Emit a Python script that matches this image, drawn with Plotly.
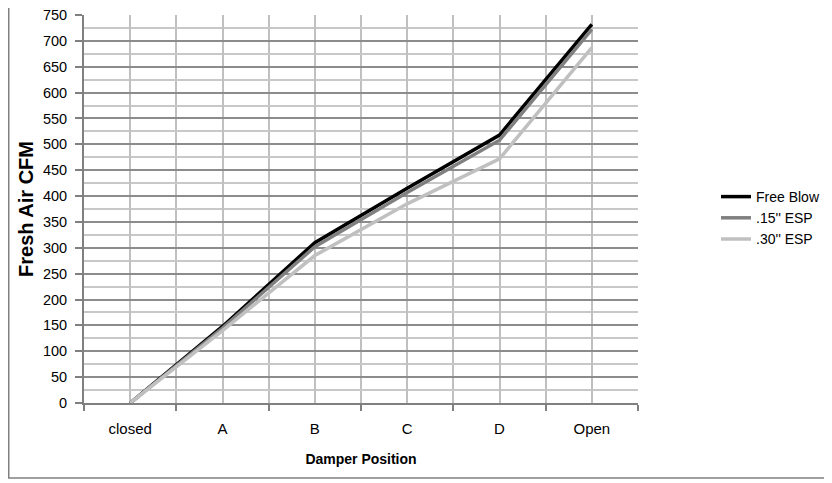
import plotly.graph_objects as go

categories = ["closed", "A", "B", "C", "D", "Open"]
free_blow = [0, 148, 310, 415, 518, 732]
esp_15 = [0, 145, 302, 407, 508, 722]
esp_30 = [0, 140, 285, 385, 472, 687]
series_names = ["Free Blow", ".15'' ESP", ".30'' ESP"]
y_ticks = list(range(0, 751, 50))

# page has an 8px body margin; work in figure coordinates
O = 8
W, H = 832 - O, 483 - O
L, T = 84 - O, 15 - O
R = W - (638 - O)
B = H - (403 - O)
pw, ph = W - L - R, H - T - B

fig = go.Figure()
xs = list(range(len(categories)))
for name, vals, color in zip(series_names, [free_blow, esp_15, esp_30],
                              ["#000000", "#808080", "#C0C0C0"]):
    fig.add_trace(go.Scatter(x=xs, y=vals, mode="lines", name=name,
                             line=dict(color=color, width=3.5)))

font_family = "Liberation Sans, Arial, sans-serif"
fig.update_layout(
    width=W, height=H,
    margin=dict(l=L, r=R, t=T, b=B, autoexpand=False),
    paper_bgcolor="white", plot_bgcolor="white",
    font=dict(family=font_family, size=15, color="black"),
    showlegend=True,
    legend=dict(x=(716 - O - L) / pw, y=((403 - O) - (218 - O)) / ph,
                xanchor="left", yanchor="middle",
                font=dict(size=14, color="black"), bgcolor="rgba(0,0,0,0)",
                itemwidth=30),
    xaxis=dict(
        range=[-0.5, 5.5], tickvals=xs, ticktext=categories, ticks="",
        ticklabelstandoff=11, ticklabeloverflow="allow", automargin=False,
        showgrid=True, gridcolor="#C0C0C0", gridwidth=2,
        minor=dict(tickvals=[i - 0.5 for i in range(len(categories) + 1)],
                   ticks="outside", ticklen=6, tickcolor="#808080", tickwidth=2,
                   showgrid=True, gridcolor="#C0C0C0", gridwidth=2),
        showline=True, linecolor="#808080", linewidth=2,
        zeroline=False, fixedrange=True,
        title=dict(text="<b>Damper Position</b>", font=dict(size=14), standoff=18),
        tickfont=dict(size=15),
    ),
    yaxis=dict(
        range=[0, 750], tickvals=y_ticks, ticks="outside", ticklen=7,
        tickcolor="#808080", tickwidth=2, ticklabelstandoff=5,
        ticklabeloverflow="allow", automargin=False,
        showgrid=True, gridcolor="#8C8C8C", gridwidth=2,
        minor=dict(dtick=25, showgrid=True, gridcolor="#C8C8C8", gridwidth=2),
        showline=True, linecolor="#808080", linewidth=2,
        zeroline=False,
        title=dict(text="<b>Fresh Air CFM</b>", font=dict(size=20), standoff=4),
        tickfont=dict(size=14.5),
    ),
)

# outer chart border
fig.add_shape(type="rect", xref="paper", yref="paper",
              x0=(0.75 - L) / pw, x1=(830 - O - L) / pw,
              y0=((403 - O) - (478 - O)) / ph, y1=(403 - O + 0.75) / ph,
              line=dict(color="#808080", width=1.5), layer="below")

fig.write_html("out.html")
